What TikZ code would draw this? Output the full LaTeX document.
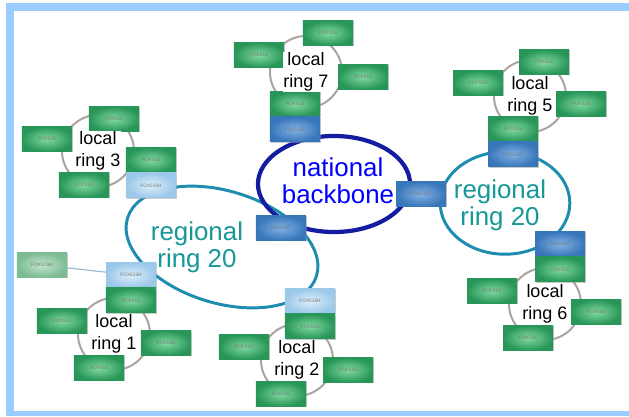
\documentclass[tikz,border=0pt]{standalone}
\usepackage{fontspec}
\setmainfont{Liberation Sans}
\usetikzlibrary{positioning,shadows}

\definecolor{framebl}{RGB}{153,204,255}
\definecolor{foxgd}{RGB}{40,150,88}
\definecolor{foxgl}{RGB}{130,218,160}
\definecolor{foxtd}{RGB}{56,118,186}
\definecolor{foxtl}{RGB}{130,178,228}
\definecolor{foxhd}{RGB}{156,200,234}
\definecolor{foxhl}{RGB}{220,238,250}
\definecolor{foxmd}{RGB}{124,188,148}
\definecolor{foxml}{RGB}{196,229,206}
\definecolor{natblue}{RGB}{20,28,160}
\definecolor{regteal}{RGB}{28,140,176}
\definecolor{regtext}{RGB}{22,152,152}
\definecolor{ringgray}{RGB}{172,162,162}

\begin{document}
\begin{tikzpicture}
    [x=0.025cm,y=-0.025cm,
     fox/.style={rectangle,minimum width=1.25cm,minimum height=0.62cm,inner sep=0pt,
       font=\fontsize{3.4}{4}\selectfont,text=black!55,
       drop shadow={shadow xshift=0.6pt,shadow yshift=-0.6pt,fill=black!40,opacity=0.5}},
     foxg/.style={fox,inner color=foxgl,outer color=foxgd},
     foxt/.style={fox,inner color=foxtl,outer color=foxtd},
     foxh/.style={fox,inner color=foxhl,outer color=foxhd},
     foxm/.style={fox,inner color=foxml,outer color=foxmd},
     locallbl/.style={fill=white,inner sep=0.5pt,align=center,font=\fontsize{12.8}{15.6}\selectfont},
     biglbl/.style={align=center,inner sep=0pt,font=\fontsize{18.4}{19.4}\selectfont},
     localring/.style={draw=ringgray,line width=1.4pt},
     regring/.style={draw=regteal,line width=2.1pt},
     natring/.style={draw=natblue,line width=3pt}]
    \useasboundingbox (0,0) rectangle (629,416);
    % frame
    \fill[framebl] (6,3) rectangle (629,416);
    \fill[white] (14,11) rectangle (629,411);

    % rings
    \coordinate (ring7) at (306,72);
    \coordinate (ring5) at (530,96);
    \coordinate (ring6) at (545,304);
    \coordinate (ring3) at (98,151);
    \coordinate (ring1) at (114,334);
    \coordinate (ring2) at (297,360);
    \foreach \r in {ring7,ring5,ring6,ring3,ring1,ring2}
      \draw[localring] (\r) circle[radius=0.9cm];
    \coordinate (regL) at (222,247);
    \coordinate (regR) at (505,203);
    \coordinate (natC) at (334,184);
    \draw[regring] (regL) ellipse[x radius=2.47cm, y radius=1.4cm, rotate=-17];
    \draw[regring] (regR) ellipse[x radius=1.62cm, y radius=1.28cm];
    \draw[natring] (natC) ellipse[x radius=1.9cm, y radius=1.2cm];

    % local ring 7 and backbone
    \node[foxg] (r7a) at (328,33) {FOX515};
    \node[foxg] (r7b) at (259,55) {FOX515};
    \node[foxg] (r7c) at (363,77) {FOX515};
    \node[foxg] (r7d) at (295,104) {FOX515};
    \node[foxt,below=0pt of r7d] (nbA) {FOX515T};
    \node[foxt] (nbB) at (421,194) {FOX515T};
    \node[foxt] (nbC) at (281,228) {FOX515T};

    % local ring 5
    \node[foxg] (r5a) at (544,62) {FOX515};
    \node[foxg] (r5b) at (478,83) {FOX515};
    \node[foxg] (r5c) at (581,104) {FOX515};
    \node[foxg] (r5d) at (513,129) {FOX515};
    \node[foxt,below=0pt of r5d] (rrA) {FOX515T};

    % local ring 6
    \node[foxt] (rrB) at (560,244) {FOX515T};
    \node[foxg,below=0pt of rrB] (r6a) {FOX515};
    \node[foxg] (r6b) at (492,291) {FOX515};
    \node[foxg] (r6c) at (596,312) {FOX515};
    \node[foxg] (r6d) at (528,338) {FOX515};

    % local ring 3
    \node[foxg] (r3a) at (114,119) {FOX515};
    \node[foxg] (r3b) at (47,139) {FOX515};
    \node[foxg] (r3c) at (151,160) {FOX515};
    \node[foxg] (r3d) at (84,185) {FOX515};
    \node[foxh,below=0pt of r3c] (rlA) {FOX515H};

    % local ring 1
    \node[foxm] (m1) at (42,265) {FOX515M};
    \node[foxh] (rlB) at (131,275) {FOX515H};
    \node[foxg,below=0pt of rlB] (r1a) {FOX515};
    \node[foxg] (r1b) at (62,321) {FOX515};
    \node[foxg] (r1c) at (166,343) {FOX515};
    \node[foxg] (r1d) at (99,368) {FOX515};
    \draw[draw=foxhd!80!gray,line width=0.8pt] (m1) -- (rlB);

    % local ring 2
    \node[foxh] (rlC) at (310,301) {FOX515H};
    \node[foxg,below=0pt of rlC] (r2a) {FOX515};
    \node[foxg] (r2b) at (244,347) {FOX515};
    \node[foxg] (r2c) at (348,370) {FOX515};
    \node[foxg] (r2d) at (281,394) {FOX515};

    % labels
    \node[locallbl] at (ring7) {local\\ring 7};
    \node[locallbl] at (ring5) {local\\ring 5};
    \node[locallbl] at (ring6) {local\\ring 6};
    \node[locallbl] at (ring3) {local\\ring 3};
    \node[locallbl] at (ring1) {local\\ring 1};
    \node[locallbl] at (ring2) {local\\ring 2};
    \node[biglbl,text=blue] at (338,181) {national\\backbone};
    \node[biglbl,text=regtext] at (197,247) {regional\\ring 20};
    \node[biglbl,text=regtext] at (500,205) {regional\\ring 20};
\end{tikzpicture}
\end{document}
